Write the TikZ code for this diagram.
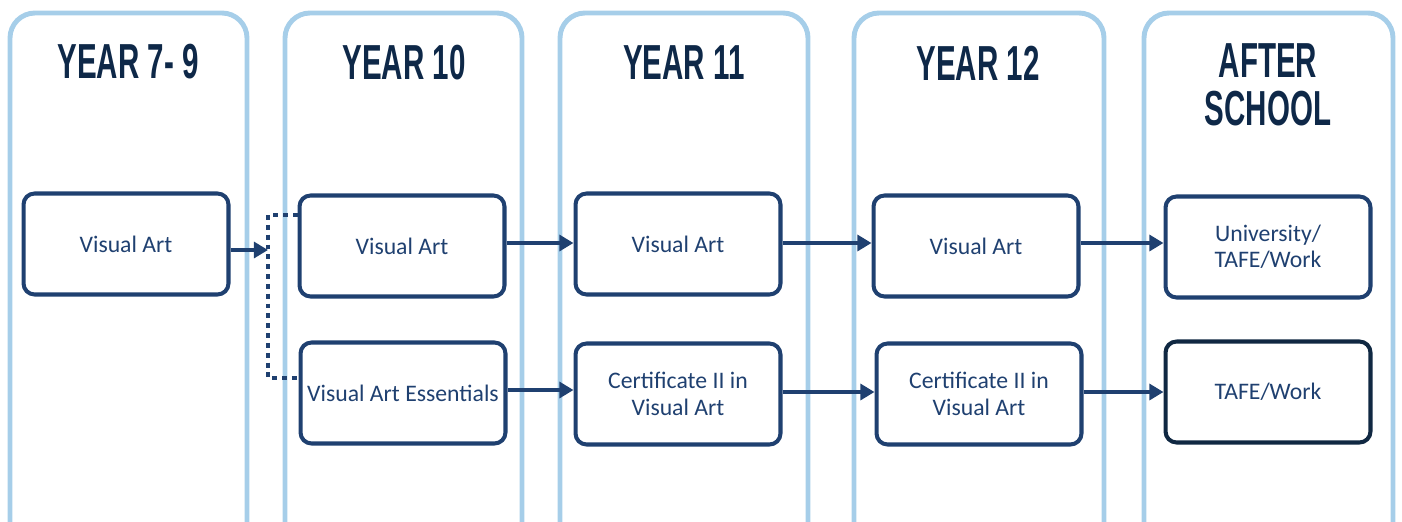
\documentclass[tikz,border=0pt]{standalone}
\usepackage{fontspec}
\setmainfont{Carlito}
\newfontfamily\headfont[FakeStretch=0.60]{Liberation Sans}
\usepackage{tikz}
\usetikzlibrary{arrows.meta, calc, positioning}
\definecolor{columnblue}{RGB}{166, 206, 233}
\definecolor{boxblue}{RGB}{31, 64, 112}
\definecolor{headnavy}{RGB}{14, 40, 72}
\definecolor{darknavy}{RGB}{16, 40, 66}

\tikzset{
  column/.style={columnblue, line width=2.8pt, rounded corners=0.5cm},
  header/.style={headnavy, font=\headfont\bfseries\fontsize{28}{30}\selectfont, align=center},
  stagebox/.style={draw=boxblue, line width=2.3pt, rounded corners=0.22cm, text=boxblue,
    minimum width=4.1cm, minimum height=2.02cm, align=center, inner sep=1pt,
    font=\fontsize{13.5}{15}\selectfont},
  flow/.style={-{Triangle[length=8pt,width=9pt]}, boxblue, line width=2.3pt},
  branch/.style={boxblue, line width=2.6pt, dash pattern=on 2.8pt off 2.8pt, line cap=butt}
}

\begin{document}
\begin{tikzpicture}[x=0.02cm, y=-0.02cm, line join=round]

		\useasboundingbox (0,0) rectangle (1402,521);

		% year columns
		\begin{scope}
		\clip (0,0) rectangle (1402,521);
		\draw [column] (10,13) rectangle (247,580);
		\draw [column] (285,13) rectangle (522,580);
		\draw [column] (560,13) rectangle (808,580);
		\draw [column] (854,13) rectangle (1104,580);
		\draw [column] (1144,13) rectangle (1393,580);
		\end{scope}

		% headers
		\node [header] (h79) at (128,62) {YEAR 7- 9};
		\node [header] (h10) at (404,63) {YEAR 10};
		\node [header] (h11) at (684,63) {YEAR 11};
		\node [header] (h12) at (978,63) {YEAR 12};
		\node [header] (hafter) at (1268,85) {AFTER\\[-3pt]SCHOOL};

		% subject boxes
		\node [stagebox] (art79) at (126,244) {Visual Art};
		\node [stagebox] (art10) at (402,246) {Visual Art};
		\node [stagebox] (ess10) at (403,393) {Visual Art Essentials};
		\node [stagebox] (art11) at (678,244) {Visual Art};
		\node [stagebox] (cert11) at (678,394) {Certificate II in\\Visual Art};
		\node [stagebox] (art12) at (976,246) {Visual Art};
		\node [stagebox] (cert12) at (979,394) {Certificate II in\\Visual Art};
		\node [stagebox] (uni) at (1268,247) {University/\\TAFE/Work};
		\node [stagebox, draw=darknavy] (tafe) at (1268,392) {TAFE/Work};

		% split after year 9
		\coordinate (split) at (268,250);
		\coordinate (splitup) at (268,215);
		\coordinate (splitdown) at (268,378);
		\draw [flow] (art79.east |- split) -- (split);
		\draw [branch] (art10.west |- splitup) -- (splitup) -- (splitdown) -- (ess10.west |- splitdown);

		% pathways
		\draw [flow] (art10.east |- 0,243) -- (art11.west |- 0,243);
		\draw [flow] (art11.east |- 0,243) -- (art12.west |- 0,243);
		\draw [flow] (art12.east |- 0,243) -- (uni.west |- 0,243);
		\draw [flow] (ess10.east |- 0,390) -- (cert11.west |- 0,390);
		\draw [flow] (cert11.east |- 0,392) -- (cert12.west |- 0,392);
		\draw [flow] (cert12.east |- 0,392) -- (tafe.west |- 0,392);
    \end{tikzpicture}
\end{document}
